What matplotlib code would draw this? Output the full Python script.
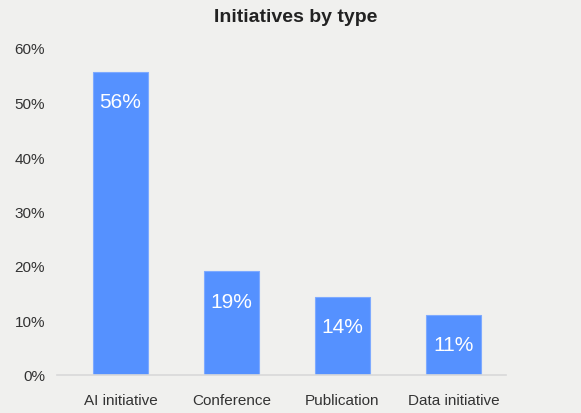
import numpy as np
import matplotlib.pyplot as plt

categories = ['AI initiative', 'Conference', 'Publication', 'Data initiative']
shares = [55.6, 19.0, 14.4, 11.1]
labels = ['56%', '19%', '14%', '11%']
yticks = [0, 10, 20, 30, 40, 50, 60]

BG = '#f0f0ee'
BAR = '#5591ff'
TXT = '#333333'

plt.rcParams['font.family'] = ['Liberation Sans', 'DejaVu Sans']

fig = plt.figure(figsize=(5.81, 4.14), dpi=100, facecolor=BG)
ax = fig.add_axes([57 / 581, 1 - 376 / 414, 449 / 581, 327 / 414], facecolor=BG)

x = np.arange(len(categories))
bars = ax.bar(x, shares, width=0.5, color=BAR, edgecolor='#7eaaff', linewidth=0.8)

for b, lab in zip(bars, labels):
    ax.annotate(lab, (b.get_x() + b.get_width() / 2, b.get_height()),
                xytext=(0, -21.5), textcoords='offset points',
                ha='center', va='center', color='white', fontsize=15)

ax.set_xlim(-0.572, 3.473)
ax.set_ylim(0, 60)
ax.set_yticks(yticks)
ax.set_yticklabels([f'{v}%' for v in yticks])
ax.set_xticks(x)
ax.set_xticklabels(categories)
ax.tick_params(axis='both', length=0, colors=TXT, labelsize=11)
ax.tick_params(axis='y', pad=8.5)
ax.tick_params(axis='x', pad=13)

for s in ['top', 'right', 'left']:
    ax.spines[s].set_visible(False)
ax.spines['bottom'].set_color('#d9d9d9')
ax.spines['bottom'].set_linewidth(1.2)

fig.text(296 / 581, 1 - 17 / 414, 'Initiatives by type', ha='center', va='center',
         fontsize=14, fontweight='bold', color='#222222')

fig.savefig('out.png', dpi=100, facecolor=BG)
